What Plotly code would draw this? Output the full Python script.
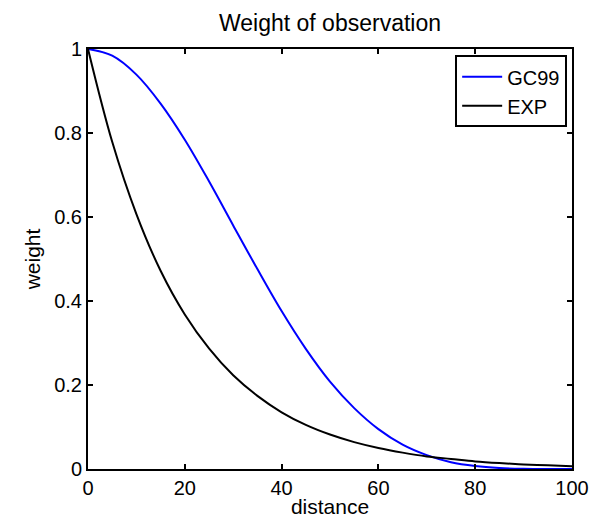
import plotly.graph_objects as go

# Data
distance = [0, 5, 10, 15, 20, 25, 30, 35, 40, 45, 50, 55, 60, 65, 70, 75, 80, 85, 90, 95, 100]
gc99 = [1.000, 0.984, 0.939, 0.870, 0.784, 0.685, 0.580, 0.476, 0.376, 0.286, 0.208,
        0.145, 0.095, 0.058, 0.033, 0.016, 0.007, 0.0023, 0.0005, 0.0, 0.0]
expw = [1.000, 0.779, 0.607, 0.472, 0.368, 0.287, 0.223, 0.174, 0.135, 0.105, 0.082,
        0.064, 0.050, 0.039, 0.030, 0.024, 0.018, 0.014, 0.011, 0.0087, 0.0067]

x_ticks = [0, 20, 40, 60, 80, 100]
x_tick_labels = ["0", "20", "40", "60", "80", "100"]
y_ticks = [0, 0.2, 0.4, 0.6, 0.8, 1.0]
y_tick_labels = ["0", "0.2", "0.4", "0.6", "0.8", "1"]

FONT = "Liberation Sans, Arial, Helvetica, sans-serif"

fig = go.Figure()
fig.add_trace(go.Scatter(x=distance, y=gc99, mode="lines", name="GC99",
                         line=dict(color="#0000ff", width=2, shape="spline")))
fig.add_trace(go.Scatter(x=distance, y=expw, mode="lines", name="EXP",
                         line=dict(color="#000000", width=2, shape="spline")))

axis_common = dict(showline=True, linecolor="black", linewidth=2, mirror="ticks",
                   ticks="inside", ticklen=5, tickwidth=1.5, tickcolor="black",
                   showgrid=False, zeroline=False, automargin=False,
                   tickfont=dict(family=FONT, size=20, color="black"))

fig.update_layout(
    width=596, height=518,
    margin=dict(l=88, r=24, t=49, b=49, autoexpand=False),
    paper_bgcolor="white", plot_bgcolor="white",
    font=dict(family=FONT, color="black"),
    title=dict(text="Weight of observation", font=dict(family=FONT, size=23, color="black"),
               x=(88 + 572) / 2 / 596, xanchor="center",
               y=1 - 23 / 518, yanchor="middle", yref="container", automargin=False),
    xaxis=dict(range=[0, 100], tickvals=x_ticks, ticktext=x_tick_labels,
               title=dict(text="distance", font=dict(family=FONT, size=21, color="black"), standoff=0),
               **axis_common),
    yaxis=dict(range=[0, 1], tickvals=y_ticks, ticktext=y_tick_labels,
               title=dict(text="weight", font=dict(family=FONT, size=21, color="black"), standoff=8),
               **axis_common),
    legend=dict(x=0.99, y=0.985, xanchor="right", yanchor="top",
                bordercolor="black", borderwidth=2, bgcolor="white",
                font=dict(family=FONT, size=20, color="black"),
                tracegroupgap=0, itemwidth=40),
    showlegend=True,
)

fig.write_html("out.html")
